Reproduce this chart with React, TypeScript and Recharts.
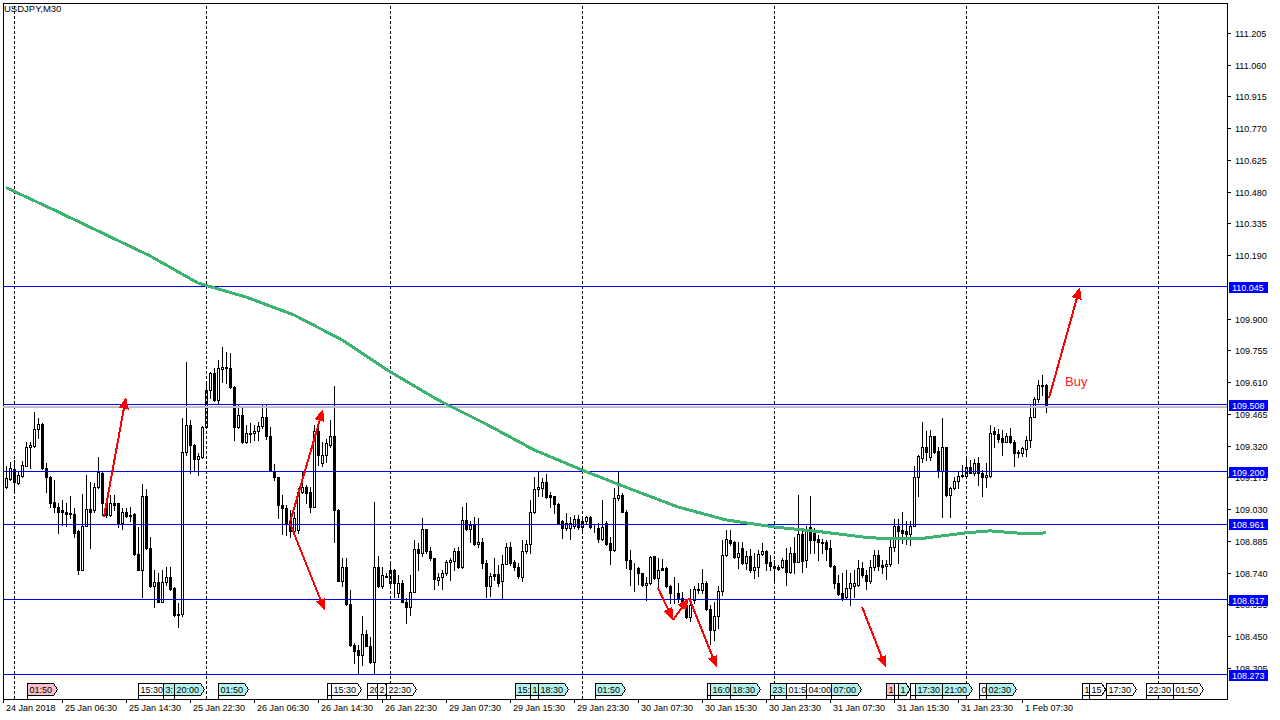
import React from 'react';
import { ComposedChart, Bar, Line, XAxis, YAxis, ReferenceLine, ReferenceArea, ReferenceDot } from 'recharts';

// USDJPY M30 candles, bar 0 = leftmost visible bar
const open = [
  109.133, 109.167, 109.212, 109.149, 109.182, 109.228, 109.316, 109.319, 109.395, 109.419,
  109.220, 109.179, 109.065, 109.042, 109.024, 109.016, 109.012, 109.008, 108.931, 108.753,
  108.954, 109.030, 109.024, 109.133, 109.197, 109.060, 109.004, 109.060, 109.057, 108.966,
  109.016, 109.005, 109.007, 108.826, 108.753, 109.091, 108.852, 108.677, 108.696, 108.608,
  108.696, 108.722, 108.669, 108.547, 108.550, 109.289, 109.415, 109.324, 109.258, 109.267,
  109.404, 109.575, 109.651, 109.529, 109.669, 109.681, 109.674, 109.590, 109.404, 109.461,
  109.336, 109.374, 109.377, 109.388, 109.410, 109.450, 109.362, 109.206, 109.176, 109.051,
  109.034, 108.974, 108.932, 108.935, 109.110, 109.133, 109.110, 109.042, 109.385, 109.240,
  109.278, 109.324, 109.362, 109.027, 108.704, 108.765, 108.598, 108.410, 108.388, 108.365,
  108.461, 108.406, 108.330, 108.765, 108.677, 108.722, 108.695, 108.753, 108.649, 108.692,
  108.608, 108.582, 108.654, 108.847, 108.832, 108.938, 108.841, 108.806, 108.707, 108.722,
  108.738, 108.791, 108.795, 108.841, 108.765, 108.981, 108.938, 108.958, 108.872, 108.882,
  108.783, 108.680, 108.733, 108.733, 108.700, 108.780, 108.859, 108.791, 108.768, 108.722,
  108.837, 108.872, 109.015, 109.121, 109.126, 109.156, 109.095, 109.088, 109.054, 108.974,
  108.943, 108.943, 108.951, 108.984, 108.948, 108.974, 108.993, 108.946, 108.943, 108.893,
  108.969, 108.875, 108.844, 109.080, 109.095, 109.019, 108.798, 108.756, 108.760, 108.738,
  108.684, 108.692, 108.814, 108.715, 108.760, 108.760, 108.677, 108.646, 108.646, 108.623,
  108.593, 108.537, 108.613, 108.659, 108.662, 108.695, 108.573, 108.476, 108.543, 108.658,
  108.821, 108.890, 108.882, 108.811, 108.852, 108.786, 108.814, 108.750, 108.768, 108.826,
  108.841, 108.791, 108.760, 108.768, 108.765, 108.798, 108.741, 108.829, 108.791, 108.917,
  108.798, 108.948, 108.923, 108.893, 108.875, 108.882, 108.852, 108.771, 108.695, 108.646,
  108.628, 108.669, 108.677, 108.684, 108.760, 108.730, 108.704, 108.768, 108.821, 108.776,
  108.771, 108.780, 108.856, 108.954, 108.935, 108.931, 108.917, 108.954, 109.179, 109.263,
  109.313, 109.267, 109.362, 109.298, 109.206, 109.313, 109.095, 109.126, 109.161, 109.182,
  109.182, 109.222, 109.197, 109.240, 109.197, 109.179, 109.182, 109.385, 109.374, 109.357,
  109.339, 109.365, 109.339, 109.293, 109.285, 109.304, 109.346, 109.453, 109.532, 109.598,
  109.598,
];
const high = [
  109.228, 109.247, 109.255, 109.206, 109.252, 109.339, 109.339, 109.476, 109.445, 109.422,
  109.240, 109.182, 109.164, 109.057, 109.072, 109.057, 109.088, 109.034, 108.935, 109.100,
  109.187, 109.156, 109.149, 109.270, 109.200, 109.063, 109.095, 109.095, 109.060, 109.034,
  109.034, 109.042, 109.012, 108.948, 109.146, 109.121, 108.905, 108.753, 108.738, 108.753,
  108.768, 108.768, 108.674, 108.601, 109.445, 109.701, 109.438, 109.326, 109.285, 109.410,
  109.613, 109.658, 109.674, 109.712, 109.773, 109.750, 109.742, 109.593, 109.506, 109.499,
  109.415, 109.422, 109.415, 109.430, 109.506, 109.506, 109.404, 109.237, 109.179, 109.095,
  109.050, 109.027, 109.019, 109.126, 109.202, 109.141, 109.133, 109.415, 109.400, 109.339,
  109.349, 109.438, 109.594, 109.030, 108.806, 108.806, 108.662, 108.421, 108.410, 108.543,
  108.479, 108.448, 109.062, 108.814, 108.768, 108.738, 108.795, 108.756, 108.730, 108.707,
  108.623, 108.730, 108.890, 108.875, 108.989, 108.941, 108.859, 108.809, 108.738, 108.753,
  108.798, 108.806, 108.852, 108.859, 109.039, 109.057, 108.974, 108.996, 108.989, 108.897,
  108.798, 108.738, 108.806, 108.776, 108.821, 108.875, 108.882, 108.798, 108.783, 108.890,
  108.890, 109.072, 109.179, 109.202, 109.171, 109.191, 109.110, 109.091, 109.060, 108.981,
  109.012, 108.993, 109.004, 109.004, 108.989, 108.999, 108.999, 108.958, 108.966, 109.072,
  108.974, 108.905, 109.126, 109.202, 109.103, 109.024, 108.844, 108.786, 108.768, 108.740,
  108.722, 108.817, 108.817, 108.806, 108.802, 108.768, 108.684, 108.719, 108.695, 108.654,
  108.613, 108.665, 108.677, 108.692, 108.756, 108.700, 108.593, 108.608, 108.680, 108.890,
  108.935, 108.935, 108.885, 108.882, 108.882, 108.837, 108.847, 108.829, 108.844, 108.875,
  108.844, 108.821, 108.798, 108.776, 108.806, 108.852, 108.859, 108.905, 109.095, 108.935,
  108.951, 109.091, 108.943, 108.913, 108.893, 108.890, 108.890, 108.776, 108.730, 108.738,
  108.753, 108.738, 108.753, 108.798, 108.791, 108.753, 108.798, 108.844, 108.844, 108.798,
  108.798, 108.890, 108.984, 108.984, 109.019, 108.974, 108.974, 109.225, 109.278, 109.426,
  109.389, 109.392, 109.365, 109.316, 109.445, 109.316, 109.133, 109.179, 109.202, 109.232,
  109.263, 109.255, 109.258, 109.267, 109.209, 109.240, 109.415, 109.404, 109.395, 109.392,
  109.377, 109.400, 109.346, 109.301, 109.313, 109.365, 109.506, 109.541, 109.620, 109.643,
  109.600,
];
const low = [
  109.129, 109.164, 109.110, 109.146, 109.179, 109.225, 109.217, 109.316, 109.354, 109.212,
  109.110, 109.042, 109.019, 108.920, 108.958, 108.951, 108.989, 108.905, 108.733, 108.750,
  108.951, 108.852, 109.019, 109.126, 109.004, 108.996, 108.999, 109.027, 108.948, 108.938,
  108.996, 108.974, 108.821, 108.750, 108.631, 108.849, 108.674, 108.585, 108.604, 108.604,
  108.684, 108.662, 108.540, 108.494, 108.540, 109.278, 109.194, 109.209, 109.187, 109.263,
  109.401, 109.537, 109.526, 109.514, 109.613, 109.605, 109.582, 109.346, 109.401, 109.333,
  109.331, 109.339, 109.346, 109.346, 109.400, 109.349, 109.203, 109.164, 108.989, 108.917,
  108.913, 108.905, 108.920, 108.923, 109.103, 109.057, 109.019, 109.039, 109.232, 109.228,
  109.247, 109.316, 108.878, 108.700, 108.680, 108.593, 108.407, 108.327, 108.281, 108.319,
  108.403, 108.327, 108.281, 108.674, 108.669, 108.719, 108.674, 108.631, 108.631, 108.605,
  108.509, 108.547, 108.652, 108.753, 108.814, 108.829, 108.798, 108.665, 108.684, 108.665,
  108.730, 108.707, 108.753, 108.760, 108.760, 108.935, 108.882, 108.868, 108.859, 108.760,
  108.631, 108.634, 108.707, 108.677, 108.623, 108.778, 108.776, 108.753, 108.715, 108.700,
  108.829, 108.829, 109.012, 109.091, 109.088, 109.080, 109.042, 109.012, 108.966, 108.897,
  108.935, 108.893, 108.943, 108.938, 108.932, 108.966, 108.943, 108.928, 108.882, 108.890,
  108.867, 108.780, 108.841, 109.072, 109.015, 108.760, 108.684, 108.658, 108.689, 108.680,
  108.613, 108.690, 108.710, 108.674, 108.750, 108.674, 108.601, 108.601, 108.608, 108.588,
  108.532, 108.521, 108.601, 108.646, 108.646, 108.570, 108.415, 108.433, 108.486, 108.639,
  108.814, 108.867, 108.806, 108.760, 108.780, 108.756, 108.741, 108.715, 108.725, 108.821,
  108.753, 108.753, 108.700, 108.753, 108.760, 108.684, 108.738, 108.738, 108.789, 108.745,
  108.768, 108.829, 108.829, 108.798, 108.829, 108.798, 108.768, 108.669, 108.639, 108.616,
  108.623, 108.593, 108.631, 108.680, 108.722, 108.665, 108.695, 108.753, 108.753, 108.738,
  108.710, 108.771, 108.837, 108.786, 108.875, 108.872, 108.867, 108.951, 109.091, 109.247,
  109.255, 109.255, 109.285, 109.179, 108.993, 109.088, 108.996, 109.121, 109.126, 109.179,
  109.179, 109.194, 109.187, 109.141, 109.091, 109.133, 109.179, 109.316, 109.339, 109.278,
  109.336, 109.331, 109.225, 109.270, 109.273, 109.273, 109.316, 109.450, 109.521, 109.552,
  109.476,
];
const close = [
  109.171, 109.217, 109.152, 109.187, 109.232, 109.316, 109.322, 109.395, 109.419, 109.217,
  109.179, 109.060, 109.039, 109.019, 109.015, 109.008, 109.007, 108.923, 108.753, 108.954,
  109.030, 109.019, 109.133, 109.199, 109.057, 109.004, 109.057, 109.050, 108.966, 109.016,
  108.999, 108.999, 108.826, 108.753, 109.091, 108.852, 108.677, 108.696, 108.608, 108.696,
  108.722, 108.665, 108.547, 108.553, 109.289, 109.415, 109.324, 109.258, 109.273, 109.404,
  109.575, 109.651, 109.529, 109.674, 109.678, 109.674, 109.590, 109.404, 109.461, 109.336,
  109.377, 109.380, 109.388, 109.410, 109.450, 109.362, 109.206, 109.176, 109.047, 109.034,
  108.963, 108.932, 108.989, 109.110, 109.133, 109.106, 109.039, 109.385, 109.278, 109.278,
  109.331, 109.362, 109.024, 108.704, 108.765, 108.598, 108.410, 108.380, 108.365, 108.461,
  108.406, 108.330, 108.765, 108.677, 108.730, 108.725, 108.753, 108.692, 108.692, 108.608,
  108.582, 108.654, 108.847, 108.832, 108.938, 108.841, 108.806, 108.710, 108.719, 108.738,
  108.791, 108.798, 108.841, 108.765, 108.981, 108.938, 108.958, 108.872, 108.882, 108.783,
  108.680, 108.725, 108.725, 108.692, 108.780, 108.859, 108.786, 108.768, 108.725, 108.837,
  108.872, 109.015, 109.121, 109.133, 109.156, 109.085, 109.085, 109.053, 108.969, 108.943,
  108.969, 108.969, 108.984, 108.948, 108.974, 108.993, 108.948, 108.943, 108.893, 108.948,
  108.872, 108.844, 109.080, 109.095, 109.019, 108.798, 108.756, 108.759, 108.738, 108.684,
  108.692, 108.811, 108.715, 108.753, 108.753, 108.677, 108.646, 108.649, 108.619, 108.593,
  108.537, 108.593, 108.665, 108.665, 108.695, 108.573, 108.476, 108.543, 108.658, 108.821,
  108.893, 108.875, 108.811, 108.829, 108.786, 108.814, 108.750, 108.768, 108.826, 108.841,
  108.786, 108.771, 108.771, 108.756, 108.798, 108.741, 108.829, 108.791, 108.917, 108.795,
  108.938, 108.890, 108.890, 108.878, 108.882, 108.847, 108.771, 108.695, 108.643, 108.623,
  108.669, 108.692, 108.692, 108.760, 108.730, 108.700, 108.768, 108.821, 108.771, 108.768,
  108.780, 108.856, 108.954, 108.932, 108.920, 108.917, 108.954, 109.179, 109.273, 109.313,
  109.293, 109.362, 109.293, 109.206, 109.313, 109.095, 109.126, 109.161, 109.182, 109.187,
  109.222, 109.197, 109.240, 109.194, 109.179, 109.187, 109.380, 109.374, 109.349, 109.339,
  109.362, 109.339, 109.285, 109.285, 109.308, 109.346, 109.453, 109.532, 109.598, 109.594,
  109.499,
];

// moving average (green), read at a subset of bars
const maBars = [0, 12, 24, 36, 48, 60, 72, 84, 96, 108, 120, 132, 144, 156, 168, 180, 192, 204, 216, 228, 240, 246, 252, 256, 260];
const maValues = [
  110.499, 110.397, 110.292, 110.187, 110.063, 109.999, 109.917, 109.803, 109.658, 109.529,
  109.419, 109.301, 109.209, 109.123, 109.040, 108.981, 108.949, 108.926, 108.899, 108.894,
  108.922, 108.931, 108.922, 108.917, 108.922,
];

const levels = [110.045, 109.508, 109.2, 108.961, 108.617, 108.273];
const bidPrice = 109.499;

const priceTicks = [
  108.305, 108.45, 108.595, 108.74, 108.885, 109.03, 109.175, 109.32, 109.465, 109.61, 109.755,
  109.9, 110.045, 110.19, 110.335, 110.48, 110.625, 110.77, 110.915, 111.06, 111.205,
];
const timeTickBars = [-0.75, 14, 30, 46, 62, 78, 94, 110, 126, 142, 158, 174, 190, 206, 222, 238, 254];
const timeTickLabels = [
  '24 Jan 2018', '25 Jan 06:30', '25 Jan 14:30', '25 Jan 22:30', '26 Jan 06:30', '26 Jan 14:30',
  '26 Jan 22:30', '29 Jan 07:30', '29 Jan 15:30', '29 Jan 23:30', '30 Jan 07:30', '30 Jan 15:30',
  '30 Jan 23:30', '31 Jan 07:30', '31 Jan 15:30', '31 Jan 23:30', '1 Feb 07:30',
];
const daySeparators = [2, 50, 96, 144, 192, 240, 288];

// red trend arrows: start bar/price -> end bar/price
const arrowStartBar = [24.5, 71, 71, 163, 166.75, 170.75, 214, 260.75];
const arrowStartPrice = [108.995, 108.97, 108.965, 108.67, 108.524, 108.625, 108.584, 109.538];
const arrowEndBar = [30, 79.25, 79.75, 166.75, 170.75, 177.75, 220, 268.5];
const arrowEndPrice = [109.543, 109.488, 108.565, 108.524, 108.625, 108.305, 108.305, 110.045];

// time tags of vertical line objects along the bottom
const markerBars = [5.25, 33, 39.25, 42, 53, 80.25, 81.25, 90.25, 92.75, 95, 127.25, 131, 133, 147.25, 175.25, 176, 181, 191, 195, 200, 206.25, 220, 222, 223, 226, 227.25, 234, 243.25, 245, 269, 270.75, 275, 285, 291.75];
const markerTexts = ['01:50', '15:30', '3:', '20:00', '01:50', '', '15:30', '20', '2', '22:30', '15:', '1', '18:30', '01:50', '', '16:0', '18:30', '23:', '01:5', '04:00', '07:00', '1', '', '1', '', '17:30', '21:00', '0', '02:30', '1', '15', '17:30', '22:30', '01:50'];
const markerKinds = ['p', 'w', 'c', 'c', 'c', 'w', 'w', 'w', 'w', 'w', 'c', 'c', 'c', 'c', 'w', 'c', 'c', 'c', 'w', 'w', 'c', 'p', 'w', 'c', 'w', 'c', 'c', 'w', 'c', 'w', 'w', 'w', 'w', 'w'];

const buyBar = 264.75;
const buyPrice = 109.616;

const X_DOMAIN = [-0.75, 305.25];
const Y_DOMAIN = [108.163, 111.342];
const FONT = '"Liberation Sans", Arial, sans-serif';

const data: any[] = open.map((o, i) => ({
  i,
  o,
  h: high[i],
  l: low[i],
  c: close[i],
  range: [low[i], high[i]],
  ma: null,
}));
maBars.forEach((b, j) => {
  data[b].ma = maValues[j];
});

// plain ticks first, level tags last so the tags sit on top of the labels
const axisTicks = [...priceTicks.filter((t) => !levels.includes(t)), ...levels];

const Candle = (props: any) => {
  const { x, y, width, height, payload } = props;
  if (x == null || !payload) return null;
  const { o, h, l, c } = payload;
  const px = Math.round(x + width / 2);
  const span = h - l;
  const toY = (v: number) => (span > 0 ? y + ((h - v) / span) * height : y);
  const top = Math.round(toY(Math.max(o, c)));
  const bot = Math.round(toY(Math.min(o, c)));
  const bull = c >= o;
  return (
    <g>
      <line x1={px + 0.5} x2={px + 0.5} y1={Math.round(y)} y2={Math.round(y + height) + 1} stroke="#000" strokeWidth={1} />
      <rect x={px - 0.5} y={top + 0.5} width={2} height={Math.max(bot - top, 0)} fill={bull ? '#fff' : '#000'} stroke="#000" strokeWidth={1} />
    </g>
  );
};

const Arrow = (props: any) => {
  const { x1, y1, x2, y2 } = props;
  const a = Math.atan2(y2 - y1, x2 - x1);
  const len = 12;
  const half = 5;
  const bx = x2 - len * Math.cos(a);
  const by = y2 - len * Math.sin(a);
  const nx = -Math.sin(a) * half;
  const ny = Math.cos(a) * half;
  return (
    <g>
      <line x1={x1} y1={y1} x2={bx} y2={by} stroke="#ff0000" strokeWidth={2} />
      <polygon points={`${x2},${y2} ${bx + nx},${by + ny} ${bx - nx},${by - ny}`} fill="#ff0000" />
    </g>
  );
};

const markerFill: any = { p: '#f8c0cc', c: '#b4f0ec', w: '#ffffff' };

const makeMarker = (text: string, kind: string) => (props: any) => {
  const x = Math.round(props.x1) + 0.5;
  const bottom = Math.max(props.y1, props.y2);
  const w = Math.max(4, text.length * 4.6 + 3);
  const top = bottom - 15.5;
  const h = 12;
  const pts = `${x},${top} ${x + w},${top} ${x + w + 4},${top + h / 2} ${x + w},${top + h} ${x},${top + h}`;
  return (
    <g>
      <line x1={x} x2={x} y1={top + h} y2={bottom} stroke="#000" />
      <polygon points={pts} fill={markerFill[kind]} stroke="#000" strokeWidth={1} />
      <text x={x + 2} y={top + 9.5} fontSize={9} fontFamily={FONT} fill="#000">{text}</text>
    </g>
  );
};

const PriceTick = (props: any) => {
  const { x, y, payload } = props;
  const v = payload.value;
  const yy = Math.round(y);
  if (levels.includes(v)) {
    return (
      <g>
        <rect x={x + 2} y={yy - 5.5} width={39} height={11} fill="#0000ff" />
        <text x={x + 5} y={yy + 4} fontSize={9} fontFamily={FONT} fill="#ffffff">{v.toFixed(3)}</text>
      </g>
    );
  }
  return (
    <g>
      <line x1={x} x2={x + 4} y1={yy + 0.5} y2={yy + 0.5} stroke="#000" />
      <text x={x + 8} y={yy + 3.5} fontSize={9} fontFamily={FONT} fill="#000">{v.toFixed(3)}</text>
    </g>
  );
};

const TimeTick = (props: any) => {
  const { x, y, payload } = props;
  const idx = timeTickBars.indexOf(payload.value);
  return (
    <text x={x + 3} y={y + 6} fontSize={9} fontFamily={FONT} fill="#000">{timeTickLabels[idx]}</text>
  );
};

const BuyText = (props: any) => (
  <text x={props.cx} y={props.cy + 5} fontSize={13} fontFamily={FONT} fill="#ff2020">Buy</text>
);

export default function App() {
  return (
    <div style={{ position: 'relative', width: 1280, height: 720, background: '#fff', fontFamily: FONT }}>
      <style>{'body{margin:0}'}</style>
      <ComposedChart
        width={1280}
        height={720}
        data={data}
        margin={{ top: 3, right: 0, bottom: 0, left: 3 }}
        style={{ shapeRendering: 'crispEdges' }}
      >
        <XAxis
          dataKey="i"
          type="number"
          domain={X_DOMAIN}
          ticks={timeTickBars}
          interval={0}
          tick={<TimeTick />}
          tickSize={4}
          tickLine={{ stroke: '#000' }}
          axisLine={{ stroke: '#000' }}
          height={21}
          allowDataOverflow
        />
        <YAxis
          orientation="right"
          type="number"
          domain={Y_DOMAIN}
          ticks={axisTicks}
          interval={0}
          tick={<PriceTick />}
          tickSize={0}
          tickMargin={0}
          tickLine={false}
          axisLine={{ stroke: '#000' }}
          width={53}
          allowDataOverflow
        />
        <ReferenceArea x1={X_DOMAIN[0]} x2={X_DOMAIN[1]} y1={Y_DOMAIN[0]} y2={Y_DOMAIN[1]} fill="none" stroke="#000" fillOpacity={0} />
        {daySeparators.map((b) => (
          <ReferenceLine key={'d' + b} x={b} stroke="#000" strokeDasharray="3 2" />
        ))}
        <ReferenceLine y={bidPrice} stroke="#c0c0c0" strokeWidth={2} />
        {levels.map((v) => (
          <ReferenceLine key={'l' + v} y={v} stroke="#0000ff" strokeWidth={1} />
        ))}
        <Bar dataKey="range" barSize={3} shape={<Candle />} isAnimationActive={false} />
        <Line
          dataKey="ma"
          type="linear"
          stroke="#3cb371"
          strokeWidth={3}
          dot={false}
          connectNulls
          isAnimationActive={false}
        />
        {arrowStartBar.map((b, j) => (
          <ReferenceLine
            key={'a' + j}
            segment={[
              { x: b, y: arrowStartPrice[j] },
              { x: arrowEndBar[j], y: arrowEndPrice[j] },
            ]}
            shape={<Arrow />}
          />
        ))}
        {markerBars.map((b, j) => (
          <ReferenceLine key={'m' + j} x={b} stroke="none" shape={makeMarker(markerTexts[j], markerKinds[j])} />
        ))}
        <ReferenceDot x={buyBar} y={buyPrice} r={0} shape={<BuyText />} />
      </ComposedChart>
      <div style={{ position: 'absolute', left: 4, top: 3, fontSize: 9.5, color: '#000', lineHeight: '12px' }}>USDJPY,M30</div>
    </div>
  );
}
